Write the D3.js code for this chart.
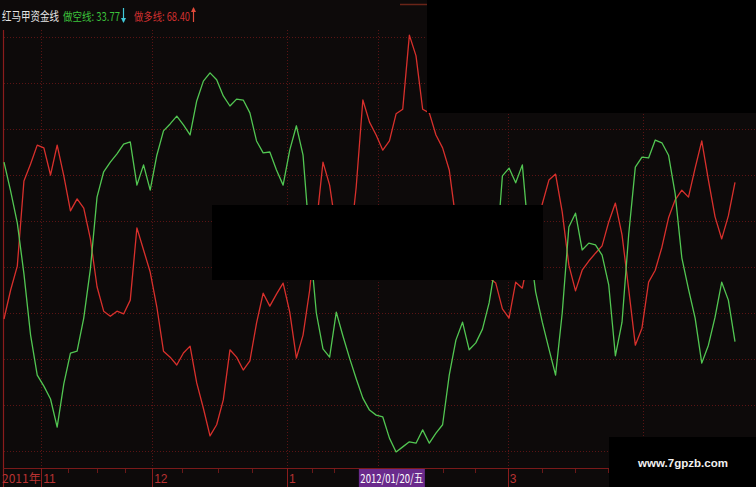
<!DOCTYPE html>
<html><head><meta charset="utf-8">
<script src="https://cdn.jsdelivr.net/npm/d3@7/dist/d3.min.js"></script>
<style>html,body{margin:0;padding:0;background:#0d0a0a;overflow:hidden}</style>
</head><body><svg id="c" width="756" height="487"></svg>
<script>
// 做空线 (green)
const shortLine = [72.8,66.5,59.6,48.5,35.2,26.5,24.1,21.3,15.2,24.6,31.3,31.7,38.9,49.6,65.2,70.7,72.8,74.6,76.7,77.2,
67.8,72.2,66.7,74.3,79.6,81.1,82.8,80.9,78.7,86.1,90.4,92.2,90.7,87.2,85.0,86.5,86.3,83.5,77.4,74.8,
75.0,71.1,67.8,75.4,80.7,74.3,55.9,40.0,32.2,30.4,40.2,35.0,30.2,25.7,21.5,18.9,17.8,17.4,12.8,9.8,
10.9,12.0,11.7,14.6,11.7,13.9,15.7,26.5,34.1,38.0,32.0,33.5,36.5,42.2,50.9,69.8,71.5,68.3,72.2,55.9,
44.6,38.0,32.2,26.5,40.0,58.7,61.7,53.7,55.2,54.8,52.6,46.1,30.7,38.0,57.0,71.7,73.9,73.7,77.6,77.0,
74.3,65.9,52.0,45.2,38.9,29.1,33.0,39.1,46.7,42.8,33.77];
// 做多线 (red)
const longLine = [38.7,45.0,50.2,68.7,72.4,76.5,75.9,70.0,76.5,69.8,62.2,64.8,62.8,56.1,45.7,40.4,39.3,40.4,39.8,42.8,
58.5,53.7,48.9,41.3,31.7,30.4,28.7,31.3,32.8,24.8,19.3,13.3,15.7,21.1,32.0,30.4,27.6,29.6,37.8,44.3,
41.5,44.1,46.5,40.2,30.2,35.2,45.0,59.1,72.8,67.8,58.0,53.3,53.7,67.4,86.3,81.5,78.7,75.4,77.4,83.3,
84.3,100.4,95.9,84.3,83.5,78.7,75.9,71.1,60.2,55.9,52.6,50.4,48.9,47.6,46.5,40.9,38.9,46.7,45.4,52.6,
57.0,63.7,68.9,70.2,62.0,50.4,44.8,49.3,51.3,53.0,54.6,59.8,63.9,57.0,45.2,33.0,36.7,46.7,49.3,54.3,
60.7,64.6,66.7,65.2,71.5,77.4,68.9,60.9,56.1,61.1,68.40];
const gridValues = [10,20,30,40,50,60,70,80,90,100];
const monthLabels = ["11","12","1","3"];
const monthIdx = [5.6,22.3,42.6,75.8];
const vGridIdx = [5.6,22.3,42.6,56.3,75.8,96.2];
const tickIdx = [9.6,14.0,18.2,26.8,32.2,37.3,46.4,49.7,66.1,70.9,81.0,85.9,90.9];
const yearLabel = "2011年";
const cursorDate = "2012/01/20/五";
const cursorIdx = 53.4;
const title = "红马甲资金线";
const shortName = "做空线", longName = "做多线";

const svg = d3.select("#c");
const W = 756, H = 487;
const x = d3.scaleLinear().domain([0, shortLine.length - 1]).range([4, 735]);
const y = d3.scaleLinear().domain([0, 100]).range([497, 37]);
const axisY = 468;
const gridCol = "#5a1414";

svg.append("rect").attr("width", W).attr("height", H).attr("fill", "#0d0a0a");

// horizontal grid
svg.append("g").selectAll("line").data(gridValues).join("line")
  .attr("x1", 4).attr("x2", W).attr("y1", d => Math.round(y(d)) + 0.5).attr("y2", d => Math.round(y(d)) + 0.5)
  .attr("stroke", gridCol).attr("stroke-width", 1).attr("stroke-dasharray", "1,2");
// vertical grid
svg.append("g").selectAll("line").data(vGridIdx).join("line")
  .attr("x1", d => Math.round(x(d)) + 0.5).attr("x2", d => Math.round(x(d)) + 0.5)
  .attr("y1", 30).attr("y2", axisY)
  .attr("stroke", gridCol).attr("stroke-width", 1).attr("stroke-dasharray", "1,2");

// frame
svg.append("line").attr("x1", 3.5).attr("x2", 3.5).attr("y1", 30).attr("y2", H)
  .attr("stroke", "#8a1c1c").attr("stroke-width", 1.2);
svg.append("line").attr("x1", 3).attr("x2", W).attr("y1", axisY + 0.5).attr("y2", axisY + 0.5)
  .attr("stroke", "#7a1a1a").attr("stroke-width", 1.2);
svg.append("line").attr("x1", 400).attr("x2", 427).attr("y1", 4.5).attr("y2", 4.5)
  .attr("stroke", "#6a2418").attr("stroke-width", 1.5);

// axis ticks
svg.append("g").selectAll("line").data(tickIdx).join("line")
  .attr("x1", d => Math.round(x(d)) + 0.5).attr("x2", d => Math.round(x(d)) + 0.5)
  .attr("y1", axisY + 1).attr("y2", axisY + 5)
  .attr("stroke", "#6a1818").attr("stroke-width", 1);
// month separators and labels
svg.append("g").selectAll("line").data(monthIdx).join("line")
  .attr("x1", d => Math.round(x(d)) + 0.5).attr("x2", d => Math.round(x(d)) + 0.5)
  .attr("y1", axisY).attr("y2", H)
  .attr("stroke", "#8a1c1c").attr("stroke-width", 1);
svg.append("g").selectAll("text").data(monthLabels).join("text")
  .attr("x", (d, i) => x(monthIdx[i]) + 2).attr("y", 483)
  .attr("fill", "#b83232").attr("font-family", "Liberation Sans Narrow, Liberation Sans, sans-serif")
  .attr("font-size", 12).text(d => d);
svg.append("text").attr("x", 2).attr("y", 483)
  .attr("fill", "#b83232").attr("font-family", "Liberation Sans Narrow, Noto Sans CJK SC, sans-serif")
  .attr("font-size", 12).text(yearLabel);

// lines
const line = d3.line().x((d, i) => x(i)).y(d => y(d));
svg.append("path").datum(longLine).attr("d", line).attr("fill", "none")
  .attr("stroke", "#d8302c").attr("stroke-width", 1.3).attr("stroke-linejoin", "round");
svg.append("path").datum(shortLine).attr("d", line).attr("fill", "none")
  .attr("stroke", "#52c652").attr("stroke-width", 1.3).attr("stroke-linejoin", "round");

// occluding black boxes
svg.append("rect").attr("x", 427).attr("y", 0).attr("width", W - 427).attr("height", 113).attr("fill", "#000");
svg.append("rect").attr("x", 212).attr("y", 205).attr("width", 331).attr("height", 75).attr("fill", "#000");
svg.append("rect").attr("x", 609).attr("y", 437).attr("width", W - 609).attr("height", H - 437).attr("fill", "#000");

// cursor date box
const cx0 = x(cursorIdx);
svg.append("rect").attr("x", cx0).attr("y", 469).attr("width", 66).attr("height", 18).attr("fill", "#6a2a8c");
svg.append("text").attr("x", cx0 + 1.5).attr("y", 483).attr("fill", "#fff")
  .attr("font-family", "Liberation Sans Narrow, Noto Sans CJK SC, sans-serif").attr("font-size", 12)
  .attr("textLength", 63).attr("lengthAdjust", "spacingAndGlyphs").text(cursorDate);

// title / legend
const tf = "Noto Sans CJK SC, sans-serif";
svg.append("text").attr("transform", "translate(2,21) scale(1,1.2)").attr("fill", "#e6e6e6").attr("font-family", tf)
  .attr("font-size", 10).attr("textLength", 57).attr("lengthAdjust", "spacingAndGlyphs").text(title);
svg.append("text").attr("transform", "translate(63,21) scale(1,1.12)").attr("fill", "#3cc23c").attr("font-family", tf)
  .attr("font-size", 10.5).attr("textLength", 57).attr("lengthAdjust", "spacingAndGlyphs")
  .text(shortName + ": " + shortLine[shortLine.length - 1].toFixed(2));
svg.append("text").attr("transform", "translate(134,21) scale(1,1.12)").attr("fill", "#d03030").attr("font-family", tf)
  .attr("font-size", 10.5).attr("textLength", 56).attr("lengthAdjust", "spacingAndGlyphs")
  .text(longName + ": " + longLine[longLine.length - 1].toFixed(2));
// arrows
function arrow(cx, up, col) {
  const g = svg.append("g").attr("stroke", col).attr("fill", col);
  g.append("line").attr("x1", cx).attr("x2", cx).attr("y1", 8).attr("y2", 22).attr("stroke-width", 1.2);
  if (up) g.append("path").attr("d", `M${cx-2.5},12 L${cx},7 L${cx+2.5},12 Z`).attr("stroke", "none");
  else g.append("path").attr("d", `M${cx-2.5},18 L${cx},23 L${cx+2.5},18 Z`).attr("stroke", "none");
}
arrow(123.5, false, "#40c8d8");
arrow(193.5, true, "#e04a3a");

// watermark
svg.append("text").attr("x", 638).attr("y", 467).attr("fill", "#f0f0f0")
  .attr("font-family", "Liberation Sans, Arial, sans-serif").attr("font-weight", "bold")
  .attr("font-size", 11.5).attr("textLength", 90).text("www.7gpzb.com");
</script></body></html>
